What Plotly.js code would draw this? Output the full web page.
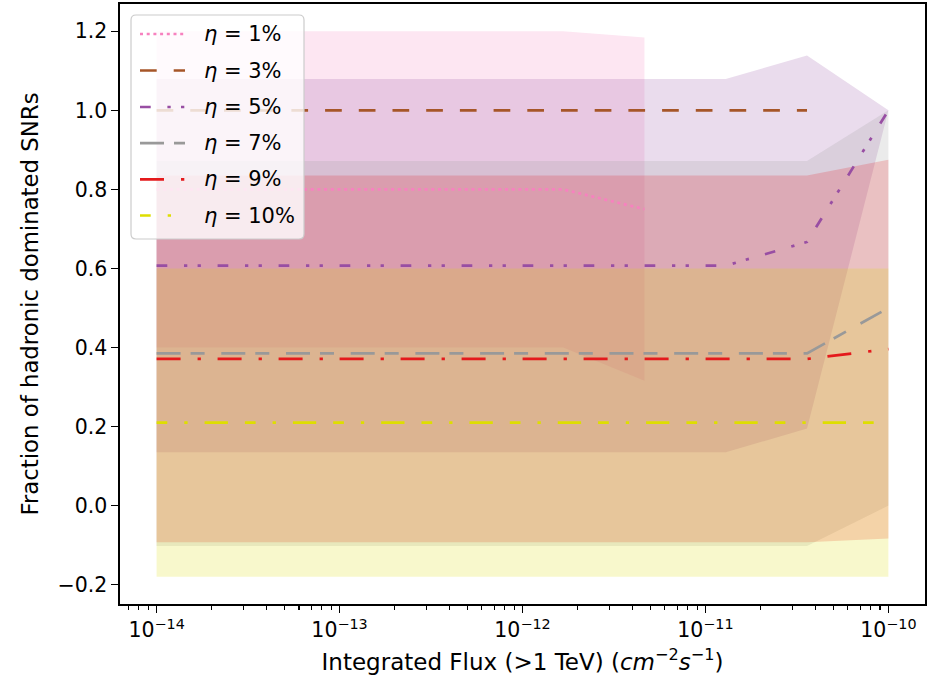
<!DOCTYPE html>
<html>
<head>
<meta charset="utf-8">
<script src="https://cdn.plot.ly/plotly-3.0.1.min.js"></script>
<style>
  html, body { margin: 0; padding: 0; background: #fff; }
  #chart { width: 934px; height: 682px; }
</style>
</head>
<body>
<div id="chart"></div>
<script>
// ---- data ----
const flux = [1.00e-14, 2.78e-14, 7.74e-14, 2.15e-13, 5.99e-13, 1.67e-12, 4.64e-12, 1.29e-11, 3.59e-11, 1.00e-10];

const etaLabels = ['1%', '3%', '5%', '7%', '9%', '10%'];

const mean1  = [0.80, 0.80, 0.80, 0.80, 0.80, 0.80, 0.75, null, null, null];
const std1   = [0.40, 0.40, 0.40, 0.40, 0.40, 0.40, 0.434, null, null, null];

const mean3  = [1.00, 1.00, 1.00, 1.00, 1.00, 1.00, 1.00, 1.00, 1.00, null];
const std3   = [0.00, 0.00, 0.00, 0.00, 0.00, 0.00, 0.00, 0.00, 0.00, null];

const mean5  = [0.607, 0.607, 0.607, 0.607, 0.607, 0.607, 0.607, 0.607, 0.667, 1.00];
const std5   = [0.472, 0.472, 0.472, 0.472, 0.472, 0.472, 0.472, 0.472, 0.472, 0.00];

const mean7  = [0.385, 0.385, 0.385, 0.385, 0.385, 0.385, 0.385, 0.385, 0.385, 0.50];
const std7   = [0.487, 0.487, 0.487, 0.487, 0.487, 0.487, 0.487, 0.487, 0.487, 0.50];

const mean9  = [0.371, 0.371, 0.371, 0.371, 0.371, 0.371, 0.371, 0.371, 0.371, 0.396];
const std9   = [0.464, 0.464, 0.464, 0.464, 0.464, 0.464, 0.464, 0.464, 0.464, 0.479];

const mean10 = [0.21, 0.21, 0.21, 0.21, 0.21, 0.21, 0.21, 0.21, 0.21, 0.21];
const std10  = [0.39, 0.39, 0.39, 0.39, 0.39, 0.39, 0.39, 0.39, 0.39, 0.39];

const xTickVals = [1e-14, 1e-13, 1e-12, 1e-11, 1e-10];
const xTickText = ['10<sup>\u221214</sup>', '10<sup>\u221213</sup>', '10<sup>\u221212</sup>', '10<sup>\u221211</sup>', '10<sup>\u221210</sup>'];
const yTickVals = [-0.2, 0.0, 0.2, 0.4, 0.6, 0.8, 1.0, 1.2];

// ---- styling ----
const means = [mean1, mean3, mean5, mean7, mean9, mean10];
const stds  = [std1, std3, std5, std7, std9, std10];
const rgb = [[247,129,191],[166,86,40],[152,78,163],[153,153,153],[228,26,28],[222,222,0]];
const dashes = [
  '3px,3.7px',
  '16.7px,17px',
  '10.7px,16.7px,3.3px,10.3px,3.3px,16.7px',
  '24px,10px,14px,16.7px',
  '24px,17px,3.3px,16.7px',
  '10.7px,17px,3.3px,17px,23.3px,17px'
];
const LW = 2.7;
const FONT = 'DejaVu Sans, Liberation Sans, sans-serif';

const traces = [];
// bands first (below all lines)
means.forEach((m, k) => {
  const xs = [], up = [], lo = [];
  m.forEach((v, i) => {
    if (v !== null) { xs.push(flux[i]); up.push(v + stds[k][i]); lo.push(v - stds[k][i]); }
  });
  traces.push({
    type: 'scatter', mode: 'lines',
    x: xs.concat(xs.slice().reverse()),
    y: up.concat(lo.slice().reverse()),
    fill: 'toself',
    fillcolor: `rgba(${rgb[k].join(',')},0.2)`,
    line: { width: 0 },
    hoverinfo: 'skip', showlegend: false
  });
});
// mean lines
means.forEach((m, k) => {
  traces.push({
    type: 'scatter', mode: 'lines',
    x: flux, y: m,
    name: '\u03b7 = ' + etaLabels[k],
    line: { color: `rgb(${rgb[k].join(',')})`, width: LW, dash: dashes[k] },
    connectgaps: false,
    showlegend: false
  });
});

// ---- custom legend (pixel -> paper) ----
const PL = 120, PR = 925, PT = 4, PB = 604;
const px = x => (x - PL) / (PR - PL);
const py = y => (PB - y) / (PB - PT);
const L = 131, R = 304, T = 15, B = 239, r = 5;
const P = (x, y) => `${px(x)},${py(y)}`;
const boxPath = `M${P(L+r,T)} L${P(R-r,T)} Q${P(R,T)} ${P(R,T+r)} L${P(R,B-r)} Q${P(R,B)} ${P(R-r,B)} L${P(L+r,B)} Q${P(L,B)} ${P(L,B-r)} L${P(L,T+r)} Q${P(L,T)} ${P(L+r,T)} Z`;
const shapes = [{
  type: 'path', xref: 'paper', yref: 'paper', path: boxPath,
  fillcolor: 'rgba(255,255,255,0.8)', line: { color: 'rgb(204,204,204)', width: 1.2 },
  layer: 'above'
}];
const annotations = [];
const rowY = [34, 70.5, 107, 143.2, 179.4, 215.5];
etaLabels.forEach((lab, k) => {
  shapes.push({
    type: 'line', xref: 'paper', yref: 'paper', layer: 'above',
    x0: px(140), x1: px(185), y0: py(rowY[k]), y1: py(rowY[k]),
    line: { color: `rgb(${rgb[k].join(',')})`, width: LW, dash: dashes[k] }
  });
  annotations.push({
    xref: 'paper', yref: 'paper', x: px(202), y: py(rowY[k]),
    xanchor: 'left', yanchor: 'middle', showarrow: false,
    text: '<i>\u03b7</i> = ' + lab,
    font: { family: FONT, size: 21, color: '#000' }
  });
});

const layout = {
  width: 934, height: 682,
  margin: { l: PL, r: 934 - PR, t: PT, b: 682 - PB, pad: 0 },
  paper_bgcolor: '#fff', plot_bgcolor: '#fff',
  font: { family: FONT, color: '#000' },
  showlegend: false,
  xaxis: {
    type: 'log', range: [-14.2, -9.8],
    tickmode: 'array', tickvals: xTickVals, ticktext: xTickText,
    ticks: 'outside', ticklen: 7, tickwidth: 1.3, tickcolor: '#000',
    minor: { ticks: 'outside', ticklen: 4, tickwidth: 1.1, tickcolor: '#000', dtick: 'D1', showgrid: false },
    showgrid: false, zeroline: false,
    showline: true, mirror: true, linecolor: '#000', linewidth: 1.6,
    tickfont: { family: FONT, size: 20.5, color: '#000' },
    title: { text: 'Integrated Flux (>1 TeV) (<i>cm</i><sup>\u22122</sup><i>s</i><sup>\u22121</sup>)', font: { family: FONT, size: 23, color: '#000' }, standoff: 12 }
  },
  yaxis: {
    range: [-0.249, 1.269],
    tickmode: 'array', tickvals: yTickVals, tickformat: '.1f',
    ticks: 'outside', ticklen: 7, tickwidth: 1.3, tickcolor: '#000',
    showgrid: false, zeroline: false,
    showline: true, mirror: true, linecolor: '#000', linewidth: 1.6,
    tickfont: { family: FONT, size: 20.5, color: '#000' },
    title: { text: 'Fraction of hadronic dominated SNRs', font: { family: FONT, size: 22.8, color: '#000' }, standoff: 12 }
  },
  shapes: shapes,
  annotations: annotations
};

Plotly.newPlot('chart', traces, layout, { displayModeBar: false, staticPlot: true });
</script>
</body>
</html>
